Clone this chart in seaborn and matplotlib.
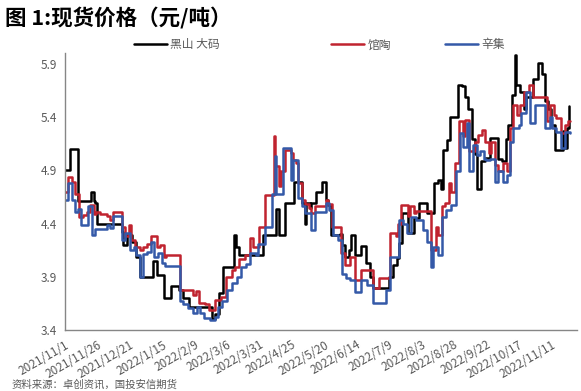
import numpy as np
import pandas as pd
import matplotlib
matplotlib.use("Agg")
import matplotlib.pyplot as plt
import seaborn as sns

start = pd.Timestamp("2021-11-01")

series_names = ["黑山 大码", "馆陶", "辛集"]
series_colors = ["#000000", "#C0232F", "#3459A8"]

# day offsets from 2021-11-01 where the price changes, and the price (元/吨, as shown)
black_day = [0, 4, 10, 20, 22, 23, 25, 44, 45, 48, 52, 55, 58, 68, 71, 76, 82, 88, 91, 96,
             113, 116, 119, 122, 130, 132, 134, 153, 163, 165, 170, 177, 183, 185, 186, 189,
             190, 194, 198, 201, 203, 205, 212, 214, 216, 219, 221, 224, 228, 232, 235, 238,
             250, 253, 256, 258, 260, 265, 269, 273, 279, 285, 288, 290, 292, 295, 297, 303,
             306, 309, 311, 314, 316, 318, 321, 324, 328, 334, 337, 340, 342, 345, 347, 348,
             351, 354, 356, 361, 365, 368, 370, 373, 375, 378, 384, 386, 387, 389]
black_val = [4.90, 5.10, 4.61, 4.70, 4.61, 4.59, 4.40, 4.32, 4.20, 4.29, 4.23, 4.09, 3.90, 4.05,
             3.92, 3.70, 3.81, 3.78, 3.70, 3.62, 3.50, 3.55, 3.75, 3.99, 4.29, 4.18, 4.10, 4.29,
             4.54, 4.29, 4.59, 4.79, 4.59, 4.40, 4.59, 4.55, 4.59, 4.70, 4.79, 4.62, 4.57, 4.29,
             4.30, 4.20, 4.09, 4.15, 4.29, 4.10, 4.19, 4.03, 3.90, 3.79, 3.90, 4.01, 4.08, 4.22,
             4.50, 4.31, 4.45, 4.59, 4.50, 4.78, 4.81, 4.72, 5.09, 5.18, 5.40, 5.70, 5.69, 5.59,
             5.48, 5.19, 5.05, 4.72, 4.99, 5.02, 5.20, 5.01, 4.99, 5.19, 5.33, 5.61, 5.98, 5.70,
             5.64, 5.48, 5.59, 5.76, 5.91, 5.80, 5.55, 5.48, 5.33, 5.09, 5.27, 5.11, 5.30, 5.50]

red_day = [0, 2, 5, 8, 11, 14, 17, 19, 22, 24, 27, 32, 35, 37, 44, 46, 49, 51, 54, 58, 60, 63,
           66, 71, 73, 76, 78, 89, 99, 101, 103, 108, 111, 116, 120, 124, 129, 131, 134, 139,
           143, 145, 150, 154, 161, 162, 165, 167, 170, 174, 176, 178, 180, 183, 185, 188, 190,
           193, 201, 203, 206, 213, 216, 220, 224, 228, 238, 242, 251, 255, 257, 259, 265, 266,
           269, 271, 282, 286, 288, 291, 293, 296, 298, 301, 304, 307, 309, 312, 316, 319, 322,
           324, 327, 329, 332, 334, 338, 341, 343, 346, 349, 351, 354, 358, 361, 372, 374, 377,
           379, 383, 386, 388, 390]
red_val = [4.70, 4.84, 4.79, 4.68, 4.46, 4.48, 4.51, 4.57, 4.49, 4.51, 4.49, 4.47, 4.43, 4.51,
           4.37, 4.28, 4.39, 4.25, 4.18, 4.15, 4.18, 4.21, 4.28, 4.18, 4.20, 4.09, 4.10, 3.78,
           3.73, 3.77, 3.65, 3.64, 3.59, 3.68, 3.71, 3.90, 3.96, 3.99, 4.07, 4.10, 4.26, 4.18,
           4.37, 4.67, 5.22, 4.94, 4.75, 4.89, 5.09, 5.06, 5.00, 4.97, 4.78, 4.62, 4.58, 4.55,
           4.50, 4.56, 4.62, 4.58, 4.37, 4.12, 4.01, 4.09, 3.87, 3.96, 3.79, 3.89, 4.31, 4.28,
           4.40, 4.57, 4.47, 4.56, 4.50, 4.52, 4.15, 4.37, 4.29, 4.56, 4.59, 4.78, 4.70, 4.97,
           5.36, 5.22, 5.37, 5.08, 5.17, 5.23, 5.28, 5.17, 5.06, 5.17, 4.95, 4.89, 4.97, 4.89,
           5.30, 5.51, 5.42, 5.51, 5.64, 5.70, 5.59, 5.36, 5.51, 5.42, 5.39, 5.25, 5.33, 5.36, 5.36]

blue_day = [0, 2, 5, 8, 10, 12, 18, 21, 23, 32, 35, 37, 44, 46, 50, 53, 55, 58, 60, 63, 66, 69,
            72, 75, 77, 89, 91, 95, 99, 102, 104, 107, 112, 116, 118, 121, 125, 129, 133, 136,
            140, 143, 147, 149, 154, 160, 162, 163, 168, 174, 176, 180, 183, 185, 190, 193, 201,
            204, 207, 211, 214, 217, 220, 224, 228, 233, 238, 248, 251, 258, 261, 264, 267, 271,
            276, 279, 282, 284, 288, 291, 294, 298, 302, 305, 307, 310, 312, 315, 318, 320, 323,
            325, 328, 332, 334, 338, 341, 343, 346, 350, 352, 356, 359, 363, 370, 374, 376, 379,
            383, 386, 390]
blue_val = [4.62, 4.78, 4.62, 4.51, 4.54, 4.39, 4.56, 4.29, 4.35, 4.39, 4.36, 4.47, 4.25, 4.31,
            4.15, 4.18, 4.10, 3.90, 4.11, 4.13, 4.23, 4.09, 4.12, 4.03, 4.00, 3.67, 3.64, 3.61,
            3.56, 3.62, 3.56, 3.51, 3.49, 3.52, 3.62, 3.67, 3.78, 3.84, 3.90, 3.99, 4.02, 4.12,
            4.10, 4.21, 4.37, 4.68, 5.03, 4.68, 5.11, 4.81, 5.00, 4.64, 4.56, 4.50, 4.34, 4.51,
            4.59, 4.53, 4.29, 4.25, 3.93, 3.89, 3.87, 3.76, 3.87, 3.82, 3.65, 3.78, 4.09, 4.43,
            4.40, 4.31, 4.46, 4.43, 4.34, 4.23, 3.99, 4.18, 4.10, 4.46, 4.53, 4.57, 4.89, 5.25,
            5.12, 5.34, 4.89, 5.14, 5.04, 5.08, 5.01, 5.00, 5.01, 4.79, 4.89, 4.79, 4.86, 5.17,
            5.30, 5.33, 5.44, 5.64, 5.34, 5.51, 5.30, 5.40, 5.30, 5.26, 5.11, 5.26, 5.25]

y_ticks = [3.4, 3.9, 4.4, 4.9, 5.4, 5.9]
tick_step_days = 25
n_ticks = 16

frames = []
for name, days, vals in [(series_names[0], black_day, black_val),
                         (series_names[1], red_day, red_val),
                         (series_names[2], blue_day, blue_val)]:
    frames.append(pd.DataFrame({
        "date": start + pd.to_timedelta(days, unit="D"),
        "price": vals,
        "series": name,
    }))
df = pd.concat(frames, ignore_index=True)

sns.set_style("white")
plt.rcParams["font.family"] = ["Noto Sans CJK SC", "DejaVu Sans"]

fig = plt.figure(figsize=(5.81, 3.91), dpi=100)
ax = fig.add_axes([0.112, 0.156, 0.881, 0.708])

sns.lineplot(data=df, x="date", y="price", hue="series", hue_order=series_names,
             palette=series_colors, estimator=None, drawstyle="steps-post",
             linewidth=1.8, ax=ax, legend=False)

ax.set_ylim(3.4, 6.0)
ax.set_yticks(y_ticks)
ax.set_yticklabels([f"{v:.1f}" for v in y_ticks])
ax.set_xlim(start, start + pd.Timedelta(days=395))
tick_dates = [start + pd.Timedelta(days=tick_step_days * i) for i in range(n_ticks)]
ax.set_xticks(tick_dates)
ax.set_xticklabels([f"{d.year}/{d.month}/{d.day}" for d in tick_dates],
                   rotation=30, ha="right", rotation_mode="anchor")
ax.set_xlabel("")
ax.set_ylabel("")

for s in ["top", "right"]:
    ax.spines[s].set_visible(False)
for s in ["left", "bottom"]:
    ax.spines[s].set_color("#868686")
    ax.spines[s].set_linewidth(1.0)
ax.tick_params(axis="both", direction="out", length=4, width=1.0, color="#868686",
               labelcolor="#595959", labelsize=8.5, pad=2)
ax.grid(False)

handles = ax.get_lines()[:3]
legend_x = [0.230, 0.570, 0.766]
for h, name, lx in zip(handles, series_names, legend_x):
    fig.legend([h], [name], loc="center left", bbox_to_anchor=(lx, 0.885),
               frameon=False, fontsize=8.5, handlelength=2.8, handletextpad=0.3,
               borderpad=0, borderaxespad=0, labelcolor="#595959")

fig.text(0.008, 0.952, "图 1:现货价格（元/吨）", fontsize=15.5, fontweight="bold",
         va="center", ha="left", color="#000000")
fig.text(0.02, 0.002, "资料来源：卓创资讯，国投安信期货", fontsize=7.5, va="bottom",
         ha="left", color="#595959")

fig.savefig("out.png", dpi=100)
